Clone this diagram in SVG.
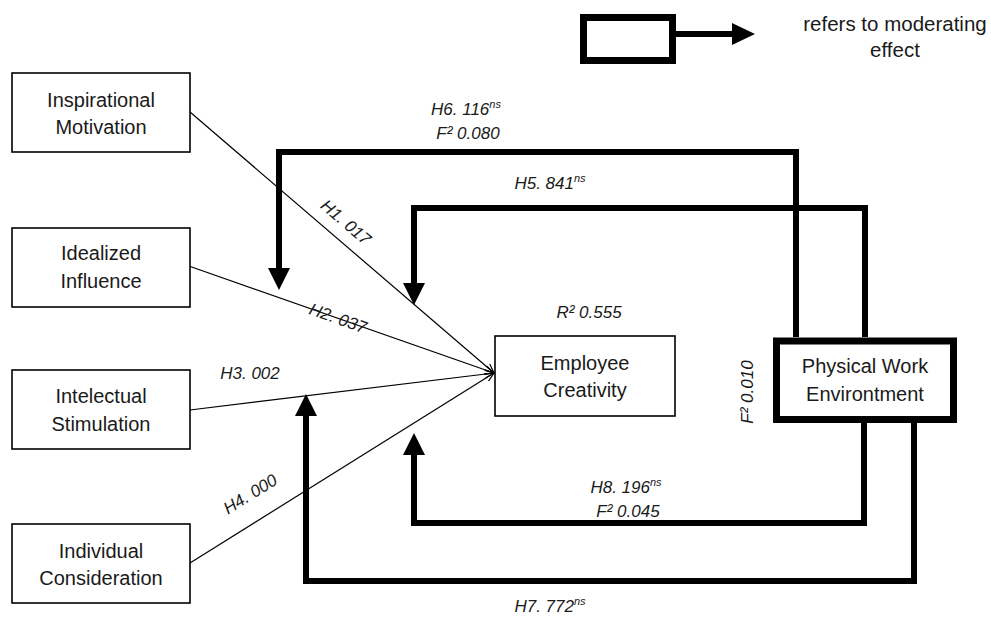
<svg xmlns="http://www.w3.org/2000/svg" width="991" height="619" viewBox="0 0 991 619">
<style>
.node{fill:#fff;stroke:#000;stroke-width:1.6}
.thick{fill:#fff;stroke:#000;stroke-width:7}
.nt{font-family:"Liberation Sans",Arial,sans-serif;font-size:20px;fill:#1a1a1a;text-anchor:middle}
.lb{font-family:"Liberation Sans",Arial,sans-serif;font-size:17px;font-style:italic;fill:#1a1a1a;text-anchor:middle}
.mod{fill:none;stroke:#000;stroke-width:6;stroke-linejoin:miter;stroke-linecap:butt}
.thin{fill:none;stroke:#000;stroke-width:1.2}
</style>
<defs>
<marker id="big" markerUnits="userSpaceOnUse" markerWidth="24" markerHeight="24" viewBox="0 -12 24 24" refX="0" refY="0" orient="auto">
<path d="M0,-11 L22,0 L0,11 Z" fill="#000"/>
</marker>
<marker id="small" markerUnits="userSpaceOnUse" markerWidth="10" markerHeight="10" viewBox="0 -5 10 10" refX="9" refY="0" orient="auto">
<path d="M0,-4 L9,0 L0,4" fill="none" stroke="#000" stroke-width="1.2"/>
</marker>
</defs>
<rect width="991" height="619" fill="#fff"/>

<g id="legend">
<rect x="583.5" y="17.5" width="89" height="43" class="thick"/>
<line x1="676" y1="34" x2="733" y2="34" stroke="#000" stroke-width="6"/>
<path d="M732,23 L755,34 L732,45 Z" fill="#000"/>
<text class="nt" x="895" y="31" style="font-size:20.5px">refers to moderating</text>
<text class="nt" x="895" y="57" style="font-size:20.5px">effect</text>
</g>

<g id="connectors">
<line class="thin" x1="190" y1="112" x2="494" y2="373" marker-end="url(#small)"/>
<line class="thin" x1="186" y1="265" x2="494" y2="373" marker-end="url(#small)"/>
<line class="thin" x1="190" y1="410" x2="494" y2="373" marker-end="url(#small)"/>
<line class="thin" x1="190" y1="563" x2="494" y2="373" marker-end="url(#small)"/>
<path class="mod" d="M796,337 V152 H279 V268" marker-end="url(#big)"/>
<path class="mod" d="M865,337 V208 H414 V283" marker-end="url(#big)"/>
<path class="mod" d="M864,423 V523 H414 V455" marker-end="url(#big)"/>
<path class="mod" d="M914,423 V581 H306 V416" marker-end="url(#big)"/>
</g>

<g id="labels">
<text class="lb" transform="translate(346,222) rotate(40.6)" x="0" y="6">H1. 017</text>
<text class="lb" transform="translate(338,318) rotate(19.4)" x="0" y="6">H2. 037</text>
<text class="lb" x="250" y="379">H3. 002</text>
<text class="lb" transform="translate(250,494) rotate(-32)" x="0" y="6">H4. 000</text>
<text class="lb" x="466" y="115">H6. 116<tspan dy="-7" font-size="11">ns</tspan></text>
<text class="lb" x="468" y="139">F² 0.080</text>
<text class="lb" x="550" y="189">H5. 841<tspan dy="-7" font-size="11">ns</tspan></text>
<text class="lb" x="589" y="318">R² 0.555</text>
<text class="lb" transform="translate(747,392) rotate(-90)" x="0" y="6">F² 0.010</text>
<text class="lb" x="626" y="493">H8. 196<tspan dy="-7" font-size="11">ns</tspan></text>
<text class="lb" x="628" y="517">F² 0.045</text>
<text class="lb" x="550" y="612">H7. 772<tspan dy="-7" font-size="11">ns</tspan></text>
</g>

<g id="inspirational-motivation">
<rect class="node" x="12" y="73" width="178" height="79"/>
<text class="nt" x="101" y="107">Inspirational</text>
<text class="nt" x="101" y="134">Motivation</text>
</g>
<g id="idealized-influence">
<rect class="node" x="12" y="228" width="178" height="79"/>
<text class="nt" x="101" y="260">Idealized</text>
<text class="nt" x="101" y="288">Influence</text>
</g>
<g id="intelectual-stimulation">
<rect class="node" x="12" y="370" width="178" height="79"/>
<text class="nt" x="101" y="403">Intelectual</text>
<text class="nt" x="101" y="431">Stimulation</text>
</g>
<g id="individual-consideration">
<rect class="node" x="12" y="524" width="178" height="79"/>
<text class="nt" x="101" y="558">Individual</text>
<text class="nt" x="101" y="585">Consideration</text>
</g>
<g id="employee-creativity">
<rect class="node" x="495" y="336" width="180" height="80"/>
<text class="nt" x="585" y="370">Employee</text>
<text class="nt" x="585" y="397">Creativity</text>
</g>
<g id="physical-work-environtment">
<rect class="thick" x="776.5" y="341" width="177" height="78.5"/>
<text class="nt" x="865" y="373">Physical Work</text>
<text class="nt" x="865" y="401">Environtment</text>
</g>
</svg>
